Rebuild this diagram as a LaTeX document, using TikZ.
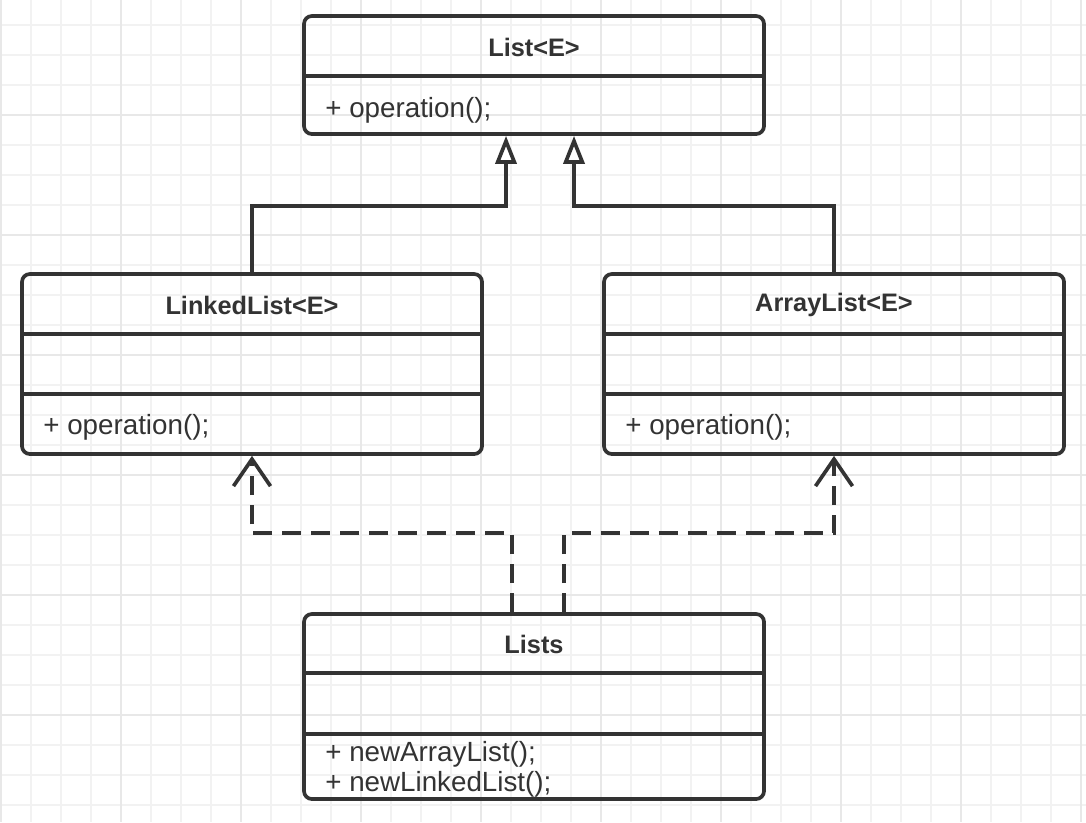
\documentclass[tikz,border=0pt]{standalone}
\usepackage{fontspec}
\setmainfont{Liberation Sans}
\usepackage{tikz}
\usetikzlibrary{arrows.meta}
\usepackage{xcolor}
\definecolor{umlline}{HTML}{333333}
\definecolor{gridminor}{HTML}{F2F2F2}
\definecolor{gridmajor}{HTML}{E8E8E8}

\begin{document}
\begin{tikzpicture}[
    classbox/.style={draw=umlline, line width=2.1pt, rounded corners=4.5pt, minimum width=9.2cm, inner sep=0pt},
    classname/.style={font=\fontsize{14.4}{17}\selectfont\bfseries, text=umlline},
    member/.style={font=\fontsize{15.8}{18}\selectfont, text=umlline, anchor=west, inner sep=0pt},
    sepline/.style={draw=umlline, line width=2.1pt},
    inherit/.style={draw=umlline, line width=2.1pt, -{Triangle[width=0.42cm, length=0.56cm, fill=white]}},
    depend/.style={draw=umlline, line width=2.1pt, dash pattern=on 0.38cm off 0.2cm, -{Straight Barb[width=0.74cm, length=0.54cm]}}
]
    \useasboundingbox (0,0) rectangle (21.72,-16.44);
    % background grid
    \fill[white] (0,0) rectangle (21.72,-16.44);
    \foreach \gx in {0,...,36}
        \draw[gridminor, line width=1pt] ({0.02+0.6*\gx},0) -- ++(0,-16.44);
    \foreach \gy in {0,...,26}
        \draw[gridminor, line width=1pt] (0,{-0.5-0.6*\gy}) -- ++(21.72,0);
    \foreach \gx in {0,...,9}
        \draw[gridmajor, line width=1.2pt] ({0.02+2.4*\gx},0) -- ++(0,-16.44);
    \foreach \gy in {0,...,5}
        \draw[gridmajor, line width=1.2pt] (0,{-2.3-2.4*\gy}) -- ++(21.72,0);

    % List<E>
    \node[classbox, minimum height=2.36cm] (list) at (10.68,-1.5) {};
    \node[classname] (listname) at (10.68,-0.94) {List<E>};
    \draw[sepline] (list.west |- 0,-1.52) -- (list.east |- 0,-1.52);
    \node[member] (listop) at (6.5,-2.2) {+ operation();};

    % LinkedList<E>
    \node[classbox, minimum height=3.6cm] (linked) at (5.04,-7.28) {};
    \node[classname] (linkedname) at (5.04,-6.1) {LinkedList<E>};
    \draw[sepline] (linked.west |- 0,-6.68) -- (linked.east |- 0,-6.68);
    \draw[sepline] (linked.west |- 0,-7.88) -- (linked.east |- 0,-7.88);
    \node[member] (linkedop) at (0.86,-8.54) {+ operation();};

    % ArrayList<E>
    \node[classbox, minimum height=3.6cm] (array) at (16.68,-7.28) {};
    \node[classname] (arrayname) at (16.68,-6.1) {ArrayList<E>};
    \draw[sepline] (array.west |- 0,-6.68) -- (array.east |- 0,-6.68);
    \draw[sepline] (array.west |- 0,-7.88) -- (array.east |- 0,-7.88);
    \node[member] (arrayop) at (12.5,-8.54) {+ operation();};

    % Lists
    \node[classbox, minimum height=3.7cm] (lists) at (10.68,-14.13) {};
    \node[classname] (listsname) at (10.68,-12.88) {Lists};
    \draw[sepline] (lists.west |- 0,-13.46) -- (lists.east |- 0,-13.46);
    \draw[sepline] (lists.west |- 0,-14.68) -- (lists.east |- 0,-14.68);
    \node[member] (listsnewarray) at (6.5,-15.08) {+ newArrayList();};
    \node[member] (listsnewlinked) at (6.5,-15.68) {+ newLinkedList();};

    % generalization
    \coordinate (linkedbend) at (10.12,-4.12);
    \coordinate (arraybend) at (11.48,-4.12);
    \draw[inherit] (linked.north) -- (linked.north |- linkedbend) -- (linkedbend) -- (linkedbend |- list.south);
    \draw[inherit] (array.north) -- (array.north |- arraybend) -- (arraybend) -- (arraybend |- list.south);

    % dependency
    \coordinate (tolinked) at (10.24,-10.66);
    \coordinate (toarray) at (11.28,-10.66);
    \draw[depend] (tolinked |- lists.north) -- (tolinked) -- (tolinked -| linked.south) -- (linked.south);
    \draw[depend] (toarray |- lists.north) -- (toarray) -- (toarray -| array.south) -- (array.south);
\end{tikzpicture}
\end{document}
